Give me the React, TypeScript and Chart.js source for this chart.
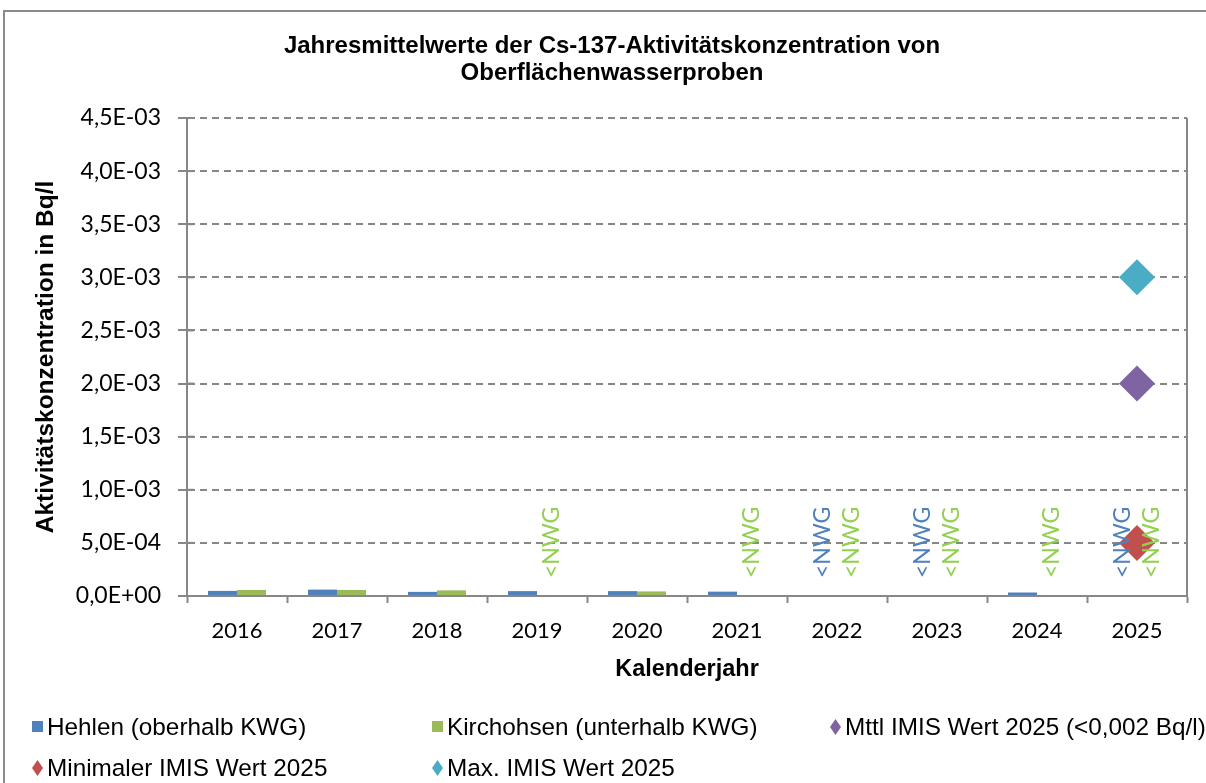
import React, { useEffect, useRef } from "react";
import { Chart, registerables } from "chart.js";

Chart.register(...registerables);

// ---------- data ----------
const years = ["2016", "2017", "2018", "2019", "2020", "2021", "2022", "2023", "2024", "2025"];
const hehlen = [4.8e-5, 6.0e-5, 3.9e-5, 4.6e-5, 4.6e-5, 4.1e-5, null, null, 3.3e-5, null];
const kirchohsen = [5.7e-5, 5.7e-5, 5.3e-5, null, 4.3e-5, null, null, null, null, null];
const hehlenNWG = [false, false, false, false, false, false, true, true, false, true];
const kirchohsenNWG = [false, false, false, true, false, true, true, true, true, true];
const imisMean = [null, null, null, null, null, null, null, null, null, 0.002];
const imisMin = [null, null, null, null, null, null, null, null, null, 0.0005];
const imisMax = [null, null, null, null, null, null, null, null, null, 0.003];
const yMin = 0;
const yMax = 0.0045;
const yStep = 0.0005;
const nwgLabel = "<NWG";

const titleLines = ["Jahresmittelwerte der Cs-137-Aktivitätskonzentration von", "Oberflächenwasserproben"];
const yTitle = "Aktivitätskonzentration in Bq/l";
const xTitle = "Kalenderjahr";
const seriesLabels = [
  "Hehlen (oberhalb KWG)",
  "Kirchohsen (unterhalb KWG)",
  "Mttl IMIS Wert 2025 (<0,002 Bq/l)",
  "Minimaler IMIS Wert 2025",
  "Max. IMIS Wert 2025",
];

// ---------- styles ----------
const BLUE = "#4F81BD";
const GREEN = "#9BBB59";
const PURPLE = "#8064A2";
const RED = "#C0504D";
const CYAN = "#4BACC6";
const NWG_BLUE = "#4F81BD";
const NWG_GREEN = "#92D050";
const GRID = "#878787";
const ARIAL = "'Liberation Sans', Arial, sans-serif";
const TICKFONT = "Lato, 'Open Sans', sans-serif";

function fmtExp(v: number): string {
  const s = Number(v).toExponential(1); // e.g. 4.5e-3
  const m = s.match(/^(-?\d)\.(\d)e([+-])(\d+)$/);
  if (!m) return s;
  const exp = m[4].padStart(2, "0");
  return `${m[1]},${m[2]}E${m[3]}${exp}`;
}

const nwgPlugin = {
  id: "nwgLabels",
  afterDatasetsDraw(chart: any) {
    const ctx = chart.ctx;
    const yScale = chart.scales.y;
    const y0 = yScale.getPixelForValue(0) - 18;
    const groups: [number, boolean[], string][] = [
      [0, hehlenNWG, NWG_BLUE],
      [1, kirchohsenNWG, NWG_GREEN],
    ];
    ctx.save();
    ctx.font = `23px ${TICKFONT}`;
    ctx.textAlign = "left";
    ctx.textBaseline = "middle";
    groups.forEach(([di, flags, color]) => {
      const meta = chart.getDatasetMeta(di);
      flags.forEach((f, i) => {
        if (!f) return;
        const el = meta.data[i];
        let x = el && isFinite(el.x) ? el.x : NaN;
        if (!isFinite(x)) {
          const c = chart.scales.x.getPixelForValue(i);
          const w = chart.scales.x.getPixelForValue(1) - chart.scales.x.getPixelForValue(0);
          x = c + (di === 0 ? -0.145 : 0.145) * w;
        }
        ctx.save();
        ctx.translate(x, y0);
        ctx.rotate(-Math.PI / 2);
        ctx.fillStyle = color;
        ctx.fillText(nwgLabel, 0, 0);
        ctx.restore();
      });
    });
    ctx.restore();
  },
};

const framePlugin = {
  id: "frameExtras",
  afterDraw(chart: any) {
    const ctx = chart.ctx;
    const a = chart.chartArea;
    ctx.save();
    ctx.strokeStyle = GRID;
    ctx.lineWidth = 2;
    ctx.setLineDash([]);
    // right border of plot area
    ctx.beginPath();
    ctx.moveTo(a.right, a.top);
    ctx.lineTo(a.right, a.bottom);
    ctx.stroke();
    // inner part of the crossing y ticks
    const ys = chart.scales.y;
    ys.ticks.forEach((t: any) => {
      const y = ys.getPixelForValue(t.value);
      ctx.beginPath();
      ctx.moveTo(a.left, y);
      ctx.lineTo(a.left + 7, y);
      ctx.stroke();
    });
    ctx.restore();
  },
};

const legendPlugin = {
  id: "excelLegend",
  afterDraw(chart: any) {
    const ctx = chart.ctx;
    const cols = [32, 432, 830];
    const rows = [727, 768];
    const items = [
      { label: seriesLabels[0], color: BLUE, shape: "square" },
      { label: seriesLabels[1], color: GREEN, shape: "square" },
      { label: seriesLabels[2], color: PURPLE, shape: "diamond" },
      { label: seriesLabels[3], color: RED, shape: "diamond" },
      { label: seriesLabels[4], color: CYAN, shape: "diamond" },
    ];
    ctx.save();
    ctx.font = `24.3px ${ARIAL}`;
    ctx.textBaseline = "middle";
    ctx.textAlign = "left";
    items.forEach((it, k) => {
      const x = cols[k % 3];
      const y = rows[Math.floor(k / 3)];
      ctx.fillStyle = it.color;
      if (it.shape === "square") {
        ctx.fillRect(x, y - 6, 11, 11);
      } else {
        ctx.beginPath();
        ctx.moveTo(x + 5.5, y - 8);
        ctx.lineTo(x + 11, y);
        ctx.lineTo(x + 5.5, y + 8);
        ctx.lineTo(x, y);
        ctx.closePath();
        ctx.fill();
      }
      ctx.fillStyle = "#000";
      ctx.fillText(it.label, x + 15, y + 1);
    });
    ctx.restore();
  },
};

export default function App() {
  const ref = useRef<HTMLCanvasElement | null>(null);

  useEffect(() => {
    if (!ref.current) return;
    const diamond = (label: string, data: (number | null)[], color: string) => ({
      type: "line" as const,
      label,
      data,
      showLine: false,
      pointStyle: "rectRot",
      pointRadius: 18,
      pointHoverRadius: 18,
      backgroundColor: color,
      borderColor: color,
      borderWidth: 0,
      order: 0,
    });
    const chart = new Chart(ref.current, {
      type: "bar",
      data: {
        labels: years,
        datasets: [
          { label: seriesLabels[0], data: hehlen, backgroundColor: BLUE, order: 1 } as any,
          { label: seriesLabels[1], data: kirchohsen, backgroundColor: GREEN, order: 1 } as any,
          diamond(seriesLabels[2], imisMean, PURPLE),
          diamond(seriesLabels[3], imisMin, RED),
          diamond(seriesLabels[4], imisMax, CYAN),
        ],
      },
      options: {
        animation: false,
        responsive: false,
        devicePixelRatio: 1,
        categoryPercentage: 0.58,
        barPercentage: 1,
        layout: { padding: { left: 37, right: 19, top: 0, bottom: 87 } },
        plugins: {
          legend: { display: false },
          tooltip: { enabled: false },
          title: {
            display: true,
            text: titleLines,
            color: "#000",
            font: { family: ARIAL, size: 24, weight: "bold", lineHeight: 27 / 24 },
            padding: { top: 33, bottom: 31 },
          },
        },
        scales: {
          x: {
            offset: true,
            grid: {
              display: true,
              offset: true,
              drawOnChartArea: false,
              drawTicks: true,
              tickLength: 7,
              tickColor: GRID,
              tickWidth: 2,
            },
            border: { display: true, color: GRID, width: 2 },
            ticks: {
              color: "#000",
              font: { family: TICKFONT, size: 22 },
              padding: 15,
              maxRotation: 0,
            },
            title: {
              display: true,
              text: xTitle,
              color: "#000",
              font: { family: ARIAL, size: 23.5, weight: "bold", lineHeight: 1.2 },
              padding: { top: 0, bottom: 12 },
            },
            afterFit(scale: any) {
              scale.height = 100;
            },
          },
          y: {
            min: yMin,
            max: yMax,
            grid: {
              display: true,
              color: GRID,
              lineWidth: 2,
              drawTicks: true,
              tickLength: 9,
              tickColor: GRID,
              tickWidth: 2,
              tickBorderDash: [],
            },
            border: { display: true, color: GRID, width: 2, dash: [7, 5] },
            ticks: {
              stepSize: yStep,
              color: "#000",
              font: { family: TICKFONT, size: 23 },
              padding: 17,
              callback: (v: any) => fmtExp(Number(v)),
            },
            title: {
              display: true,
              text: yTitle,
              color: "#000",
              font: { family: ARIAL, size: 24.5, weight: "bold", lineHeight: 1 },
              padding: { top: -3, bottom: 0 },
            },
            afterFit(scale: any) {
              scale.width = 150;
            },
          },
        },
      } as any,
      plugins: [nwgPlugin, framePlugin, legendPlugin],
    });
    return () => chart.destroy();
  }, []);

  return (
    <div
      style={{
        position: "fixed",
        left: 0,
        top: 0,
        width: 1206,
        height: 783,
        overflow: "hidden",
        background: "#fff",
      }}
    >
      <div
        style={{
          position: "absolute",
          left: 3,
          top: 10,
          width: 1400,
          height: 1000,
          border: "2px solid #8a8a8a",
          boxSizing: "border-box",
        }}
      />
      <canvas
        ref={ref}
        width={1206}
        height={783}
        style={{ position: "absolute", left: 0, top: 0, width: 1206, height: 783 }}
      />
    </div>
  );
}
